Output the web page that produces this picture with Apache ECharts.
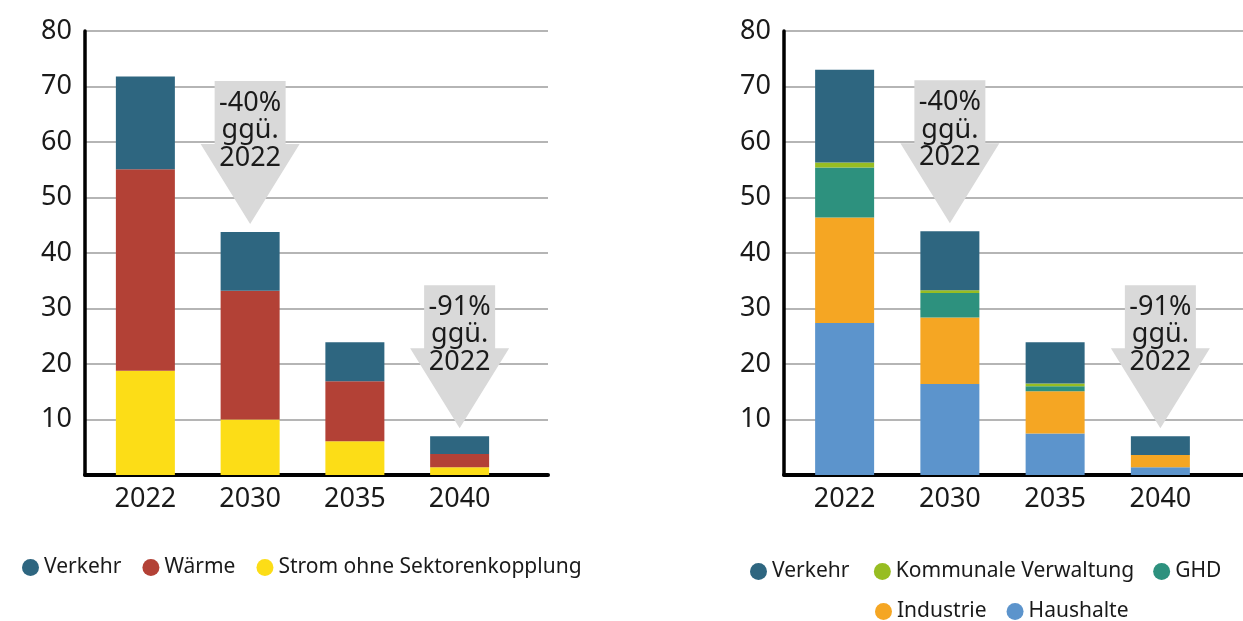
<!DOCTYPE html>
<html>
<head>
<meta charset="utf-8">
<script src="https://cdn.jsdelivr.net/npm/echarts@6/dist/echarts.min.js"></script>
<style>
html,body{margin:0;padding:0;background:#fff;}
#c{width:1243px;height:621px;}
</style>
</head>
<body>
<div id="c"></div>
<script>
// ---- data ----
const categories = ['2022', '2030', '2035', '2040'];

// left chart (by sector of use)
const leftVerkehr = [16.7, 10.6, 7.0, 3.2];
const leftWaerme  = [36.3, 23.2, 10.8, 2.4];
const leftStrom   = [18.8, 10.0, 6.1, 1.4];

// right chart (by consumer group)
const rightVerkehr    = [16.7, 10.6, 7.4, 3.4];
const rightKommunal   = [0.9, 0.5, 0.5, 0.0];
const rightGHD        = [9.0, 4.4, 0.9, 0.0];
const rightIndustrie  = [19.0, 12.0, 7.6, 2.2];
const rightHaushalte  = [27.4, 16.4, 7.5, 1.4];

const yMin = 0, yMax = 80, yStep = 10;

const annotationCats  = [1, 3];
const annotationTexts = ['-40%\nggü.\n2022', '-91%\nggü.\n2022'];

const COL = {
  verkehr: '#2e6680', waerme: '#b34136', strom: '#fcdd17',
  kommunal: '#97bd22', ghd: '#2d917e', industrie: '#f5a623', haushalte: '#5c94cc'
};
const FONT = 'Noto Sans';
const TXT = '#1a1a1a';

function totals(arrs) {
  return categories.map((_, i) => arrs.reduce((s, a) => s + a[i], 0));
}
const leftTot = totals([leftVerkehr, leftWaerme, leftStrom]);
const rightTot = totals([rightVerkehr, rightKommunal, rightGHD, rightIndustrie, rightHaushalte]);

function arrowData(tot) {
  return annotationCats.map((c, k) => [c, tot[c], annotationTexts[k]]);
}

function renderArrow(params, api) {
  const p = api.coord([api.value(0), api.value(1)]);
  const x = p[0];
  const tip = p[1] - 8;
  const T = tip - 143;
  const rw = 35.5, hw = 49.5, rh = 63;
  const label = annotationTexts[params.dataIndex];
  return {
    type: 'group',
    children: [
      { type: 'polygon',
        shape: { points: [[x - rw, T], [x + rw, T], [x + rw, T + rh], [x + hw, T + rh], [x, tip], [x - hw, T + rh], [x - rw, T + rh]] },
        style: { fill: '#d9d9d9' } },
      { type: 'text', x: x, y: T + 49.5,
        style: { text: label, fill: TXT, font: '27px "' + FONT + '"', lineHeight: 27.5,
                 textAlign: 'center', textVerticalAlign: 'middle', align: 'center', verticalAlign: 'middle' } }
    ]
  };
}

const TOP = 31, BOTTOM = 146;

function frameAxes(gi) {
  return {
    x: { gridIndex: gi, type: 'category', data: categories,
         axisLine: { lineStyle: { color: '#000', width: 4 } },
         axisTick: { show: false }, axisLabel: { show: false }, splitLine: { show: false } },
    y: { gridIndex: gi, type: 'value', min: yMin, max: yMax, interval: yStep,
         axisLine: { show: true, lineStyle: { color: '#000', width: 3.5 } },
         axisTick: { show: false },
         splitLine: { show: true, lineStyle: { color: '#b5b5b5', width: 2 } },
         axisLabel: { color: TXT, fontFamily: FONT, fontSize: 27, margin: 13,
                      formatter: v => (v === 0 ? '' : String(v)) } }
  };
}
function barAxes(gi) {
  return {
    x: { gridIndex: gi, type: 'category', data: categories,
         axisLine: { show: false }, axisTick: { show: false }, splitLine: { show: false },
         axisLabel: { color: TXT, fontFamily: FONT, fontSize: 27, margin: 11 } },
    y: { gridIndex: gi, type: 'value', min: yMin, max: yMax, interval: yStep, show: false,
         splitLine: { show: false } }
  };
}

const fA = frameAxes(0), bB = barAxes(1), fC = frameAxes(2), bD = barAxes(3);

function bar(name, data, color, xi, stack) {
  return { name, type: 'bar', stack, data, xAxisIndex: xi, yAxisIndex: xi,
           barWidth: 59, itemStyle: { color }, emphasis: { disabled: true }, animation: false };
}

const legendText = { color: TXT, fontFamily: FONT, fontSize: 21 };

const option = {
  animation: false,
  backgroundColor: '#fff',
  grid: [
    { left: 85, right: 1243 - 548, top: TOP, bottom: BOTTOM },
    { left: 93, right: 1243 - 512, top: TOP, bottom: BOTTOM },
    { left: 784, right: 0, top: TOP, bottom: BOTTOM },
    { left: 792, right: 30, top: TOP, bottom: BOTTOM }
  ],
  xAxis: [fA.x, bB.x, fC.x, bD.x],
  yAxis: [fA.y, bB.y, fC.y, bD.y],
  legend: [
    { left: 17, top: 552, icon: 'circle', itemWidth: 17, itemHeight: 17, itemGap: 21,
      textStyle: legendText, selectedMode: false,
      data: ['Verkehr', 'Wärme', 'Strom ohne Sektorenkopplung'] },
    { left: 745, top: 556, icon: 'circle', itemWidth: 17, itemHeight: 17, itemGap: 19,
      textStyle: legendText, selectedMode: false,
      data: ['Verkehr ', 'Kommunale Verwaltung', 'GHD'] },
    { left: 870, top: 596, icon: 'circle', itemWidth: 17, itemHeight: 17, itemGap: 20,
      textStyle: legendText, selectedMode: false,
      data: ['Industrie', 'Haushalte'] }
  ],
  series: [
    bar('Strom ohne Sektorenkopplung', leftStrom, COL.strom, 1, 'L'),
    bar('Wärme', leftWaerme, COL.waerme, 1, 'L'),
    bar('Verkehr', leftVerkehr, COL.verkehr, 1, 'L'),
    { type: 'custom', xAxisIndex: 1, yAxisIndex: 1, data: arrowData(leftTot), renderItem: renderArrow, silent: true, z: 3 },

    bar('Haushalte', rightHaushalte, COL.haushalte, 3, 'R'),
    bar('Industrie', rightIndustrie, COL.industrie, 3, 'R'),
    bar('GHD', rightGHD, COL.ghd, 3, 'R'),
    bar('Kommunale Verwaltung', rightKommunal, COL.kommunal, 3, 'R'),
    bar('Verkehr ', rightVerkehr, COL.verkehr, 3, 'R'),
    { type: 'custom', xAxisIndex: 3, yAxisIndex: 3, data: arrowData(rightTot), renderItem: renderArrow, silent: true, z: 3 }
  ]
};

const chart = echarts.init(document.getElementById('c'), null, { renderer: 'canvas' });
chart.setOption(option);
</script>
</body>
</html>
